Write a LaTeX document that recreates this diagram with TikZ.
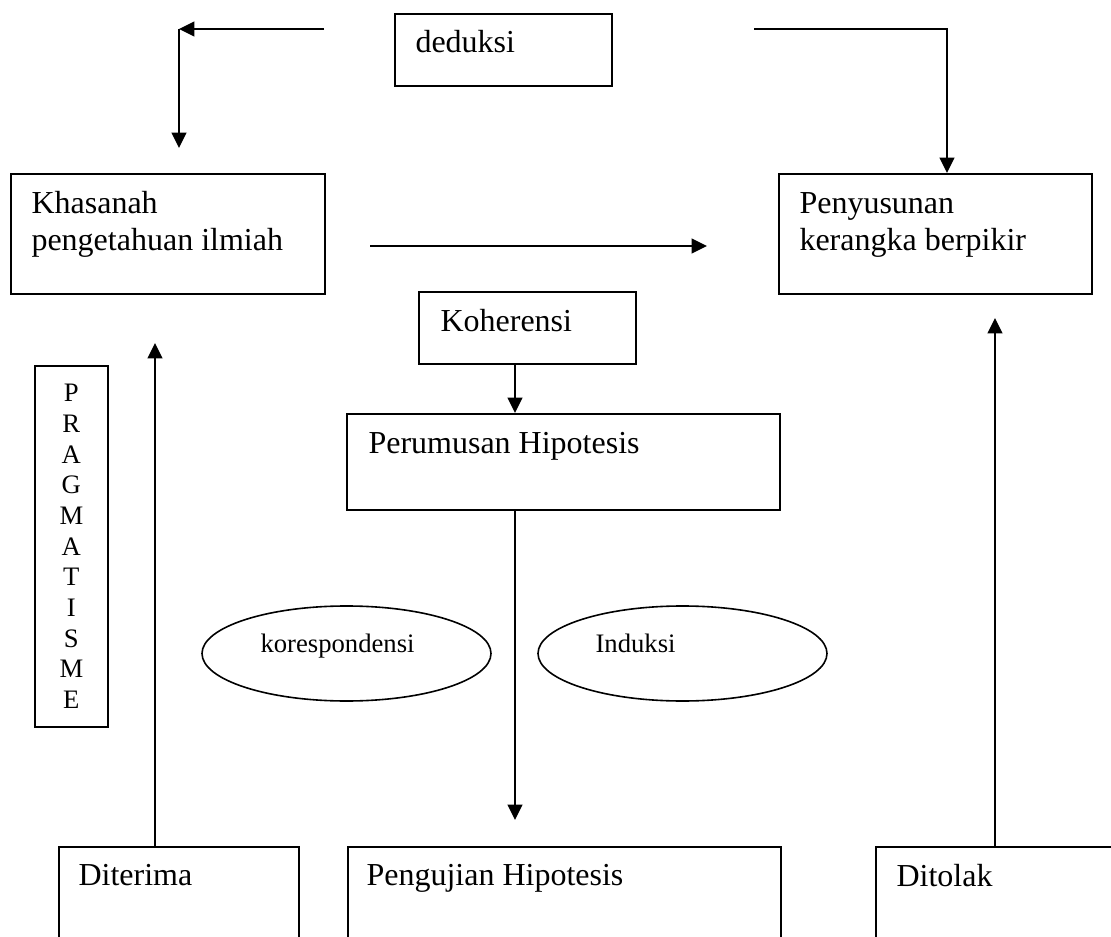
\documentclass[tikz,border=0pt]{standalone}
\usepackage{fontspec}
\setmainfont{Liberation Serif}
\usetikzlibrary{arrows.meta, shapes.geometric}
\def\pu{0.375pt}

\begin{document}
\begin{tikzpicture}[
    x=0.375pt, y=-0.375pt,
    >={Triangle[length=5.8pt, width=5.6pt]},
    arr/.style={->, line width=0.65pt},
    box/.style={draw, line width=0.65pt, inner sep=0pt, anchor=north west},
    ell/.style={draw, ellipse, line width=0.6pt, inner sep=0pt},
    txt/.style={font=\fontsize{12pt}{13.8pt}\selectfont, inner sep=0pt, align=left},
    lbl/.style={font=\fontsize{10pt}{11.5pt}\selectfont, inner sep=0pt},
]
\useasboundingbox (0,0) rectangle (1111,937);
\clip (0,0) rectangle (1111,937);
% === Boxes ===
\node[box, minimum width=217*\pu, minimum height=72*\pu] (deduksi) at (394,13) {};
\node[txt, anchor=base west] at (415,53) {deduksi};
%
\node[box, minimum width=314*\pu, minimum height=120*\pu] (khasanah) at (10,173) {};
\node[txt, anchor=north west] at (31,191) {Khasanah\\pengetahuan ilmiah};
%
\node[box, minimum width=313*\pu, minimum height=120*\pu] (penyusunan) at (778,173) {};
\node[txt, anchor=north west] at (799,192) {Penyusunan\\kerangka berpikir};
%
\node[box, minimum width=217*\pu, minimum height=72*\pu] (koherensi) at (418,291) {};
\node[txt, anchor=base west] at (440,332) {Koherensi};
%
\node[box, minimum width=433*\pu, minimum height=96*\pu] (perumusan) at (346,413) {};
\node[txt, anchor=base west] at (368,453) {Perumusan Hipotesis};
%
\node[box, lbl, align=center, minimum width=73*\pu, minimum height=361*\pu] (pragma) at (34,365)
    {P\\R\\A\\G\\M\\A\\T\\I\\S\\M\\E};
% === Ellipses ===
\node[ell, minimum width=289*\pu, minimum height=95*\pu] (kores) at (346.5,653.5) {};
\node[lbl, anchor=base west] at (260,652) {korespondensi};
\node[ell, minimum width=289*\pu, minimum height=95*\pu] (induksi) at (682.5,653.5) {};
\node[lbl, anchor=base west] at (595,652) {Induksi};
% === Bottom row (cut off by the page edge) ===
\node[box, minimum width=240*\pu, minimum height=150*\pu] (diterima) at (58,846) {};
\node[txt, anchor=base west] at (78,885) {Diterima};
\node[box, minimum width=433*\pu, minimum height=150*\pu] (pengujian) at (347,846) {};
\node[txt, anchor=base west] at (366,885) {Pengujian Hipotesis};
\node[box, minimum width=300*\pu, minimum height=150*\pu] (ditolak) at (875,846) {};
\node[txt, anchor=base west] at (896,886) {Ditolak};
% === Free ends ===
\coordinate (dedL) at (324,29);
\coordinate (cornL) at (179,29);
\coordinate (khIn) at (179,148);
\coordinate (dedR) at (754,29);
\coordinate (cornR) at (947,29);
\coordinate (midL) at (370,246);
\coordinate (midR) at (707,246);
\coordinate (hipo) at (515,0);
\coordinate (ujiIn) at (515,820);
\coordinate (accUp) at (155,343);
\coordinate (rejUp) at (995,318);
% === Connectors ===
\draw[arr] (dedL) -- (cornL);
\draw[arr] (cornL) -- (khIn);
\draw[arr] (dedR) -| (cornR |- penyusunan.north);
\draw[arr] (midL) -- (midR);
\draw[arr] (hipo |- koherensi.south) -- (hipo |- perumusan.north);
\draw[arr] (hipo |- perumusan.south) -- (ujiIn);
\draw[arr] (accUp |- diterima.north) -- (accUp);
\draw[arr] (rejUp |- ditolak.north) -- (rejUp);
\end{tikzpicture}
\end{document}
